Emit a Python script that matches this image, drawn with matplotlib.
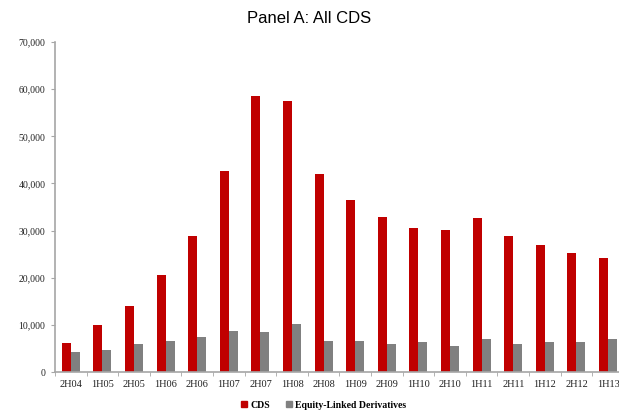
import matplotlib
matplotlib.use("Agg")
import matplotlib.pyplot as plt
import numpy as np
from matplotlib.patches import Patch

periods = ["2H04", "1H05", "2H05", "1H06", "2H06", "1H07", "2H07", "1H08", "2H08",
           "1H09", "2H09", "1H10", "2H10", "1H11", "2H11", "1H12", "2H12", "1H13"]
cds = [6250, 10070, 13900, 20500, 28800, 42600, 58600, 57400, 41900,
       36400, 32900, 30500, 30100, 32600, 28800, 27000, 25300, 24200]
equity_linked = [4250, 4600, 6000, 6600, 7400, 8800, 8400, 10100, 6600,
                 6600, 5950, 6300, 5600, 7000, 5950, 6300, 6300, 7000]

RED = "#C00000"
GRAY = "#808080"
AXIS = "#A6A6A6"

fig = plt.figure(figsize=(6.19, 4.15), dpi=100)
ax = fig.add_axes([0.0889, 0.1036, 0.919, 0.7952])

x = np.arange(len(periods))
w = 0.285
ax.bar(x - w / 2, cds, width=w, color=RED, label="CDS")
ax.bar(x + w / 2, equity_linked, width=w, color=GRAY, label="Equity-Linked Derivatives")

ax.set_xlim(-0.5, len(periods) - 0.5)
ax.set_ylim(0, 70000)
ax.set_yticks(np.arange(0, 70001, 10000))
ax.set_yticklabels([f"{v:,}" for v in range(0, 70001, 10000)],
                   family="Liberation Serif", fontsize=7)
ax.set_xticks(x)
ax.set_xticklabels(periods, family="Liberation Serif", fontsize=7.5)
ax.set_xticks(np.arange(-0.5, len(periods), 1), minor=True)
ax.tick_params(axis="x", which="major", length=0, pad=6)
ax.tick_params(axis="x", which="minor", length=3, color=AXIS, direction="out")
ax.tick_params(axis="y", length=3, color=AXIS, pad=4, labelcolor="#222222")
ax.tick_params(axis="x", labelcolor="#222222")

for s in ["top", "right"]:
    ax.spines[s].set_visible(False)
for s in ["left", "bottom"]:
    ax.spines[s].set_color(AXIS)
    ax.spines[s].set_linewidth(1.2)

fig.text(0.5, 0.955, "Panel A: All CDS", ha="center", va="center",
         family="Liberation Sans", fontsize=12)

handles = [Patch(color=RED, label="CDS"), Patch(color=GRAY, label="Equity-Linked Derivatives")]
fig.legend(handles=handles, loc="center", bbox_to_anchor=(0.523, 0.024), ncol=2,
           frameon=False, prop={"family": "Liberation Serif", "size": 7, "weight": "bold"},
           handlelength=0.6, handleheight=0.6, handletextpad=0.4, columnspacing=1.6)

fig.savefig("out.png", dpi=100)
